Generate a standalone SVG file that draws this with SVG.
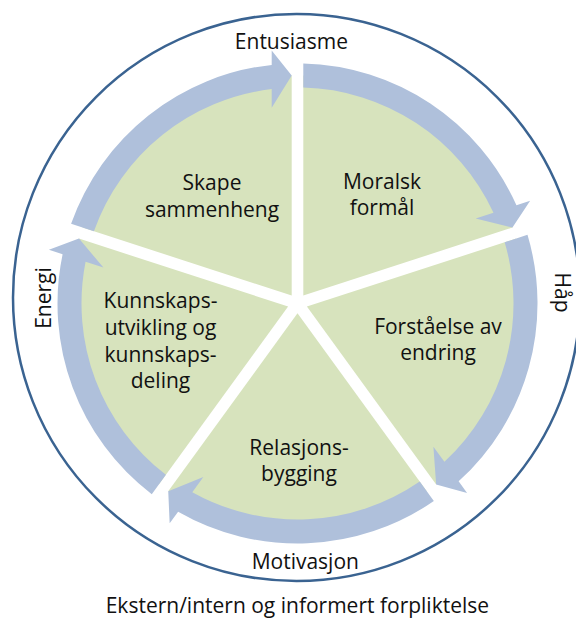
<svg xmlns="http://www.w3.org/2000/svg" xmlns:xlink="http://www.w3.org/1999/xlink" width="576" height="618" viewBox="0 0 576 618">
  <style>
    .wedge { fill: #d7e3bd; }
    .arrow { fill: #afc0db; }
    .lbl { font-family: "Open Sans", "Liberation Sans", sans-serif; font-size: 21px; fill: #111111; text-anchor: middle; }
  </style>
  <defs>
    <path id="wedgeShape" d="M-5.8,-7.98 L-214.99,-75.95 A228,228 0 0 1 -5.8,-227.93 Z"/>
    <path id="arrowShape" d="M-226.41,-79.66 A240,240 0 0 1 -25.8,-238.6 L-25.8,-253 L-5.8,-227.9 L-25.8,-195.7 L-25.8,-214.45 A216,216 0 0 0 -203.57,-72.24 Z"/>
  </defs>
  <rect width="576" height="618" fill="#ffffff"/>
  <circle id="outer-ring" cx="296.5" cy="297.5" r="283.5" fill="none" stroke="#3a6391" stroke-width="2.5"/>

  <g id="node-skape">
    <use xlink:href="#wedgeShape" class="wedge" transform="translate(297.5,303.5) rotate(0)"/>
    <text class="lbl" x="212" y="190">Skape</text>
    <text class="lbl" x="212" y="217">sammenheng</text>
  </g>
  <g id="node-moralsk">
    <use xlink:href="#wedgeShape" class="wedge" transform="translate(297.5,303.5) rotate(72)"/>
    <text class="lbl" x="382" y="188.5">Moralsk</text>
    <text class="lbl" x="382" y="215">formål</text>
  </g>
  <g id="node-forstaelse">
    <use xlink:href="#wedgeShape" class="wedge" transform="translate(297.5,303.5) rotate(144)"/>
    <text class="lbl" x="438" y="333.5">Forståelse av</text>
    <text class="lbl" x="438" y="360">endring</text>
  </g>
  <g id="node-relasjon">
    <use xlink:href="#wedgeShape" class="wedge" transform="translate(297.5,303.5) rotate(216)"/>
    <text class="lbl" x="299" y="455">Relasjons-</text>
    <text class="lbl" x="299" y="481">bygging</text>
  </g>
  <g id="node-kunnskap">
    <use xlink:href="#wedgeShape" class="wedge" transform="translate(297.5,303.5) rotate(288)"/>
    <text class="lbl" x="160.5" y="308">Kunnskaps-</text>
    <text class="lbl" x="160.5" y="335">utvikling og</text>
    <text class="lbl" x="160.5" y="361.5">kunnskaps-</text>
    <text class="lbl" x="160.5" y="388">deling</text>
  </g>

  <g id="connectors">
    <use xlink:href="#arrowShape" class="arrow" transform="translate(297.5,303.5) rotate(0)"/>
    <use xlink:href="#arrowShape" class="arrow" transform="translate(297.5,303.5) rotate(72)"/>
    <use xlink:href="#arrowShape" class="arrow" transform="translate(297.5,303.5) rotate(144)"/>
    <use xlink:href="#arrowShape" class="arrow" transform="translate(297.5,303.5) rotate(216)"/>
    <use xlink:href="#arrowShape" class="arrow" transform="translate(297.5,303.5) rotate(288)"/>
  </g>

  <g id="outer-labels">
    <text class="lbl" x="291.4" y="49.3">Entusiasme</text>
    <text class="lbl" transform="translate(555,292.5) rotate(90)">Håp</text>
    <text class="lbl" x="305.3" y="569">Motivasjon</text>
    <text class="lbl" transform="translate(50.5,298) rotate(-90)">Energi</text>
  </g>
  <g id="caption">
    <text class="lbl" x="297.4" y="613">Ekstern/intern og informert forpliktelse</text>
  </g>
</svg>
